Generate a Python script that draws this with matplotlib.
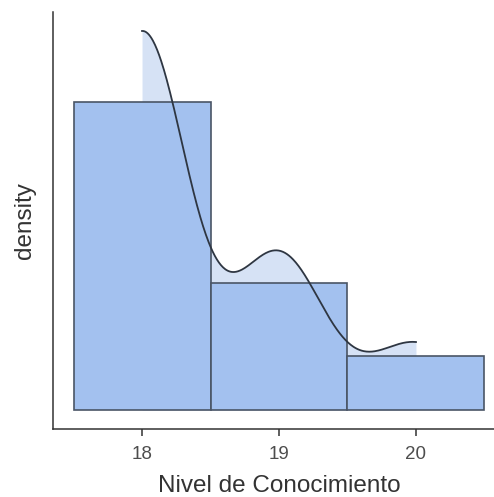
import numpy as np
import matplotlib
matplotlib.use("Agg")
import matplotlib.pyplot as plt

plt.rcParams['font.family'] = ['Liberation Sans', 'DejaVu Sans']

# Data: observed levels and their counts
levels = [18, 19, 20]
counts = [17, 7, 3]
bin_edges = [17.5, 18.5, 19.5, 20.5]
xticks = [18, 19, 20]
bandwidth = 0.325

values = np.repeat(levels, counts).astype(float)
n = len(values)
hist_density = np.array(counts) / (n * np.diff(bin_edges))

# Gaussian KDE restricted to the data range
xs = np.linspace(min(levels), max(levels), 400)
kde = np.exp(-0.5 * ((xs[:, None] - values[None, :]) / bandwidth) ** 2).sum(axis=1)
kde /= n * bandwidth * np.sqrt(2 * np.pi)

fig = plt.figure(figsize=(4.94, 4.97), dpi=100)
ax = fig.add_axes([53 / 494, 68 / 497, (505 - 53) / 494, (485 - 68) / 497])

ax.fill_between(xs, 0, kde, color='#d6e2f5', zorder=1, linewidth=0)
ax.bar(bin_edges[:-1], hist_density, width=np.diff(bin_edges), align='edge',
       color='#a3c1ef', edgecolor='#4a5566', linewidth=1.2, zorder=2)
ax.plot(xs, kde, color='#2e3642', linewidth=1.3, zorder=3)

ymax = kde.max()
ax.set_ylim(-0.05 * ymax, 1.05 * ymax)
ax.set_xlim(17.35, 20.65)

ax.set_xticks(xticks)
ax.set_xticklabels([str(t) for t in xticks])
ax.set_yticks([])

for s in ['top', 'right']:
    ax.spines[s].set_visible(False)
for s in ['left', 'bottom']:
    ax.spines[s].set_color('#333333')
    ax.spines[s].set_linewidth(1.1)

ax.tick_params(axis='x', length=5, width=1.1, color='#333333', labelsize=13.5,
               labelcolor='#4d4d4d', pad=7)
ax.set_xlabel('Nivel de Conocimiento', fontsize=17.5, color='#333333', labelpad=9)
ax.set_ylabel('density', fontsize=17.5, color='#333333', labelpad=12)

fig.savefig('out.png', dpi=100)
